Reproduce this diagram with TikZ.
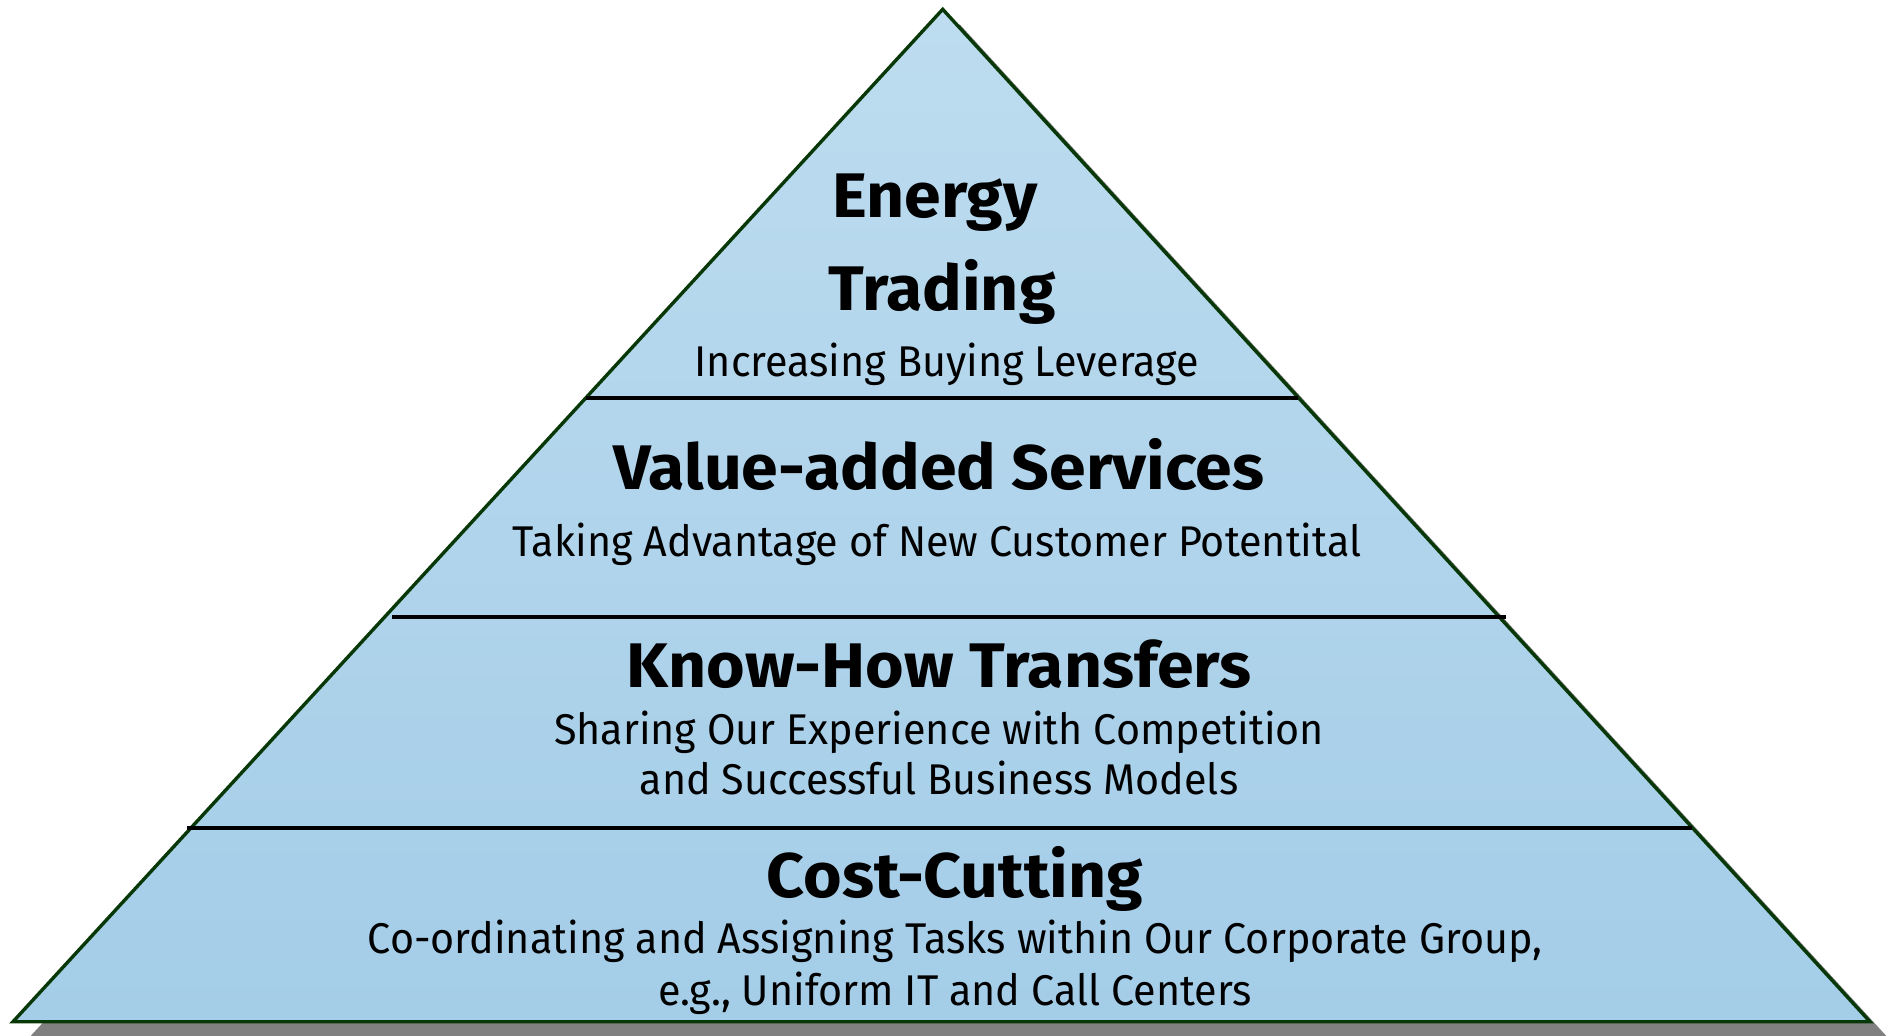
\documentclass[tikz,border=0pt]{standalone}
\usepackage{fontspec}
\setmainfont{Fira Sans}[FakeStretch=0.96, BoldFeatures={FakeStretch=1.05}]
\definecolor{filltop}{RGB}{189,220,239}
\definecolor{fillbot}{RGB}{164,205,232}
\definecolor{edgegreen}{RGB}{8,56,8}
\definecolor{shadowgray}{RGB}{128,128,128}
\tikzset{
  edgeline/.style={draw=edgegreen, line width=1.7pt, line join=miter},
  sepline/.style={draw=black, line width=2pt},
  headtxt/.style={anchor=base, inner sep=0pt, font=\fontsize{31.5}{36}\selectfont\bfseries},
  subtxt/.style={anchor=base, inner sep=0pt, font=\fontsize{21.5}{26}\selectfont},
}
\begin{document}
\begin{tikzpicture}[x=0.5pt,y=-0.5pt]
\useasboundingbox (0,0) rectangle (1892,1035);
\coordinate (apex) at (942.7,9.3);
\coordinate (bl) at (13,1021.7);
\coordinate (br) at (1870,1021.7);
% shadow
\fill[shadowgray] ([shift={(17,15)}]apex) -- ([shift={(17,15)}]br) -- ([shift={(17,15)}]bl) -- cycle;
% pyramid body
\shade[top color=filltop, bottom color=fillbot] (apex) -- (br) -- (bl) -- cycle;
\draw[edgeline] (apex) -- (br) -- (bl) -- cycle;
% separators
\coordinate (s1l) at (586.4,397.5); \coordinate (s1r) at (1298.3,397.5);
\coordinate (s2l) at (392,617);     \coordinate (s2r) at (1506,617);
\coordinate (s3l) at (187,827.5);   \coordinate (s3r) at (1692,827.5);
\draw[sepline] (s1l) -- (s1r);
\draw[sepline] (s2l) -- (s2r);
\draw[sepline] (s3l) -- (s3r);
% texts
\node[headtxt] (h1a) at (935,217) {Energy};
\node[headtxt] (h1b) at (942,310) {Trading};
\node[subtxt]  (s1)  at (947,376) {Increasing Buying Leverage};
\node[headtxt] (h2)  at (939,489) {Value-added Services};
\node[subtxt]  (s2)  at (937,556) {Taking Advantage of New Customer Potentital};
\node[headtxt] (h3)  at (939,687) {Know-How Transfers};
\node[subtxt]  (s3a) at (939,744) {Sharing Our Experience with Competition};
\node[subtxt]  (s3b) at (939,794) {and Successful Business Models};
\node[headtxt] (h4)  at (955,897) {Cost-Cutting};
\node[subtxt]  (s4a) at (955,953) {Co-ordinating and Assigning Tasks within Our Corporate Group,};
\node[subtxt]  (s4b) at (955,1005) {e.g., Uniform IT and Call Centers};
\end{tikzpicture}
\end{document}
